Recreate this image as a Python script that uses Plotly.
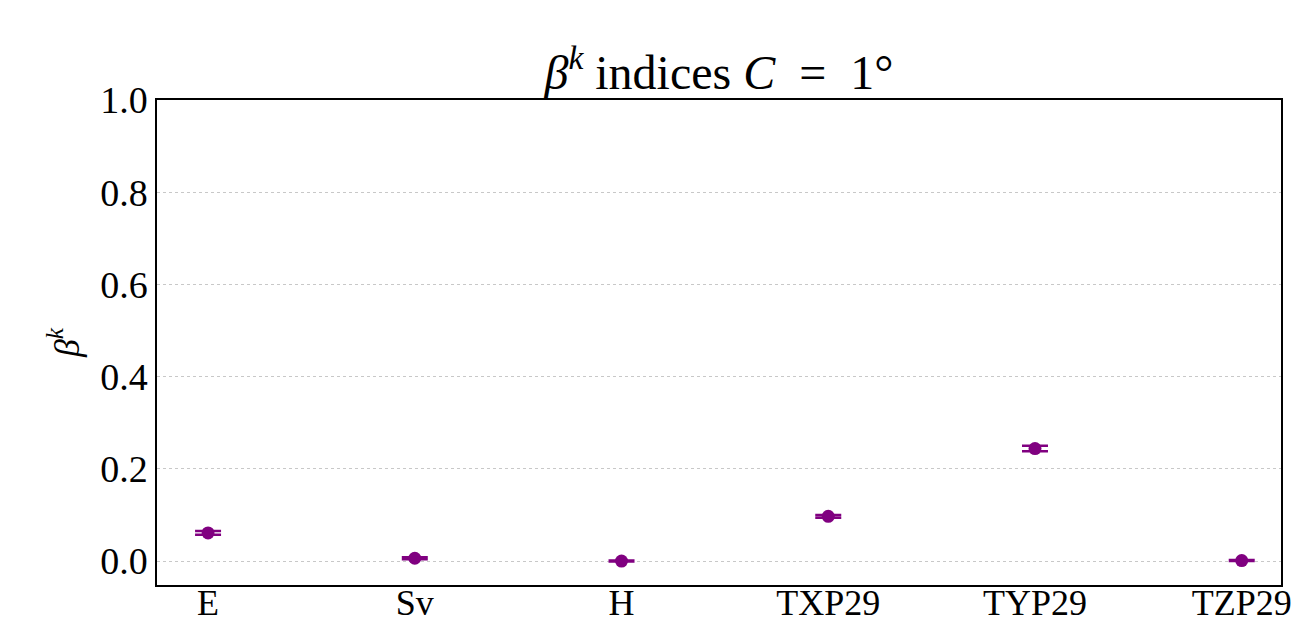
import plotly.graph_objects as go

categories = ["E", "Sv", "H", "TXP29", "TYP29", "TZP29"]
beta_k = [0.061, 0.006, 0.000, 0.097, 0.244, 0.001]
beta_err = [0.004, 0.002, 0.001, 0.003, 0.006, 0.001]
y_ticks = [0.0, 0.2, 0.4, 0.6, 0.8, 1.0]
y_tick_labels = ["0.0", "0.2", "0.4", "0.6", "0.8", "1.0"]

xpos = list(range(len(categories)))

fig = go.Figure()
fig.add_trace(go.Scatter(
    x=xpos, y=beta_k, mode="markers",
    marker=dict(color="#800080", size=13),
    error_y=dict(type="data", array=beta_err, visible=True,
                 color="#800080", thickness=2.5, width=13),
    showlegend=False,
))

serif = "Liberation Serif, DejaVu Serif, serif"
fig.update_layout(
    width=1301, height=622,
    margin=dict(l=157, r=20, t=100, b=37),
    paper_bgcolor="white", plot_bgcolor="white",
    font=dict(family=serif, size=38, color="black"),
    title=dict(text="<i>β</i><sup><i>k</i></sup> indices <i>C</i>\u2002=\u20021°",
               x=0.5, xanchor="center", xref="paper",
               y=1 - 72 / 622, yanchor="middle", yref="container",
               font=dict(family=serif, size=48)),
    xaxis=dict(range=[-0.247, 5.19], tickvals=xpos, ticktext=categories,
               showgrid=False, zeroline=False, showline=True, mirror=True,
               linecolor="black", linewidth=1.5, ticks="", automargin=False,
               ticklabelstandoff=-15, tickfont=dict(size=36)),
    yaxis=dict(range=[-0.052, 1.0], tickvals=y_ticks, ticktext=y_tick_labels,
               showgrid=True, gridcolor="#c8c8c8", griddash="dot", gridwidth=1,
               zeroline=False, showline=True, mirror=True,
               linecolor="black", linewidth=1.5, ticks="", automargin=False,
               title=dict(text="<i>β</i><sup><i>k</i></sup>", standoff=10,
                          font=dict(size=36))),
)
fig.write_html("out.html")
